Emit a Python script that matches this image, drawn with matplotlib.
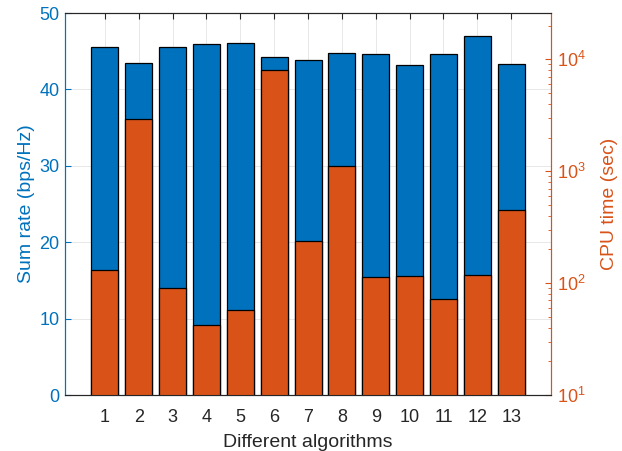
import matplotlib
matplotlib.use("Agg")
import matplotlib.pyplot as plt
import numpy as np
from matplotlib.ticker import LogLocator, NullFormatter

plt.rcParams['font.family'] = ['Liberation Sans', 'DejaVu Sans']
plt.rcParams['mathtext.fontset'] = 'custom'
plt.rcParams['mathtext.rm'] = 'Liberation Sans'
plt.rcParams['mathtext.it'] = 'Liberation Sans:italic'

# data
algos = list(range(1, 14))
sum_rate = [45.6, 43.5, 45.6, 45.9, 46.1, 44.2, 43.9, 44.8, 44.6, 43.2, 44.7, 47.0, 43.4]
cpu_time = [132, 2930, 90, 42.5, 57, 7980, 236, 1116, 114, 116, 72.4, 119, 449]

blue = (0, 0.447, 0.741)
orange = (0.851, 0.325, 0.098)
dark = (0.15, 0.15, 0.15)

fig, ax1 = plt.subplots(figsize=(6.22, 4.51), dpi=100)
fig.subplots_adjust(left=0.1045, right=0.886, top=0.971, bottom=0.124)

ax1.bar(algos, sum_rate, width=0.8, color=blue, edgecolor='black', linewidth=0.9, zorder=2)
ax1.set_ylim(0, 50)
ax1.set_xlim(-0.18, 14.18)
ax1.set_xticks(algos)
ax1.set_yticks([0, 10, 20, 30, 40, 50])
ax1.grid(True, color=(0.15, 0.15, 0.15), alpha=0.12, linewidth=0.6)
ax1.set_axisbelow(True)
ax1.set_xlabel('Different algorithms', fontsize=14, color=dark, labelpad=6)
ax1.set_ylabel('Sum rate (bps/Hz)', fontsize=14, color=blue, labelpad=3)
ax1.tick_params(axis='y', colors=blue, labelsize=13, direction='in', length=4, pad=4)
ax1.tick_params(axis='x', colors=dark, labelsize=13, direction='in', length=4, top=True, pad=10)

ax2 = ax1.twinx()
ax2.bar(algos, cpu_time, width=0.8, color=orange, edgecolor='black', linewidth=0.9, zorder=2)
ax2.set_yscale('log')
ax2.set_ylim(10, 10 ** 4.413)
ax2.yaxis.set_major_locator(LogLocator(base=10, numticks=10))
ax2.yaxis.set_minor_locator(LogLocator(base=10, subs=np.arange(2, 10), numticks=20))
ax2.yaxis.set_minor_formatter(NullFormatter())
ax2.set_ylabel('CPU time (sec)', fontsize=14, color=orange, labelpad=11)
ax2.tick_params(axis='y', which='major', colors=orange, labelsize=13, direction='in', length=4, pad=4)
ax2.tick_params(axis='y', which='minor', colors=orange, direction='in', length=2.5)

for ax in (ax1, ax2):
    ax.spines['left'].set_color(blue)
    ax.spines['right'].set_color(orange)
    ax.spines['top'].set_color(dark)
    ax.spines['bottom'].set_color(dark)
    for s in ax.spines.values():
        s.set_linewidth(0.8)

fig.savefig('out.png', dpi=100)
